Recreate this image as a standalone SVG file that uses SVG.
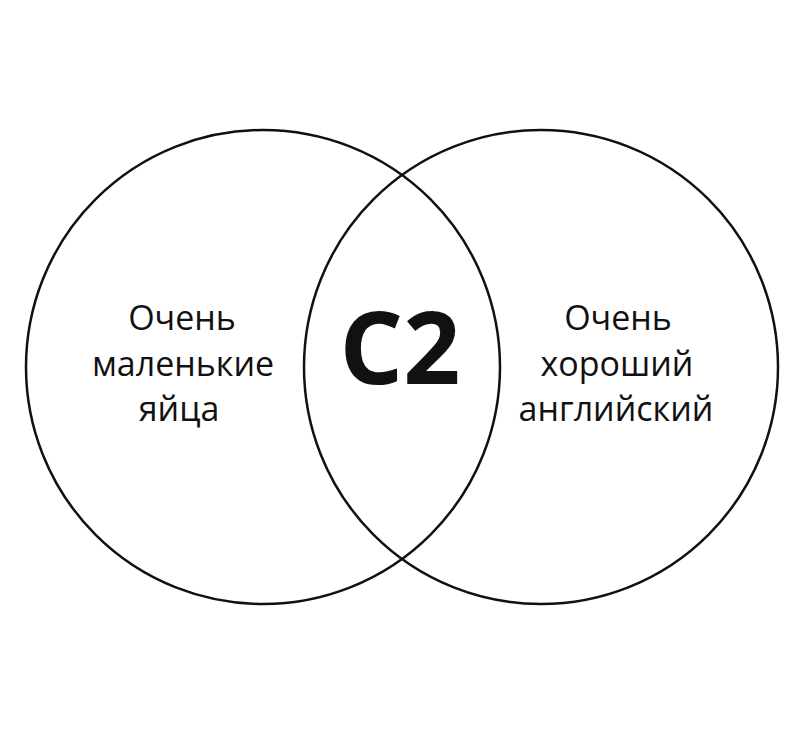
<svg xmlns="http://www.w3.org/2000/svg" width="800" height="741" viewBox="0 0 800 741">
<style>
.c{fill:none;stroke:#111;stroke-width:2.5}
.t{font-family:"Open Sans","Noto Sans",sans-serif;font-size:34px;fill:#111;text-anchor:middle}
.b{font-family:"Open Sans","Noto Sans",sans-serif;font-size:100px;font-weight:bold;fill:#111;text-anchor:middle}
</style>
<rect width="800" height="741" fill="#fff"/>
<g id="left">
<circle class="c" cx="263" cy="367" r="237"/>
<text class="t" x="182" y="330">Очень</text>
<text class="t" x="183" y="376">маленькие</text>
<text class="t" x="179" y="421">яйца</text>
</g>
<g id="right">
<circle class="c" cx="541" cy="367" r="237"/>
<text class="t" x="618" y="330">Очень</text>
<text class="t" x="617" y="376">хороший</text>
<text class="t" x="616" y="421">английский</text>
</g>
<g id="center">
<text class="b" x="400" y="384">C2</text>
</g>
<g id="connectors"/>
</svg>
